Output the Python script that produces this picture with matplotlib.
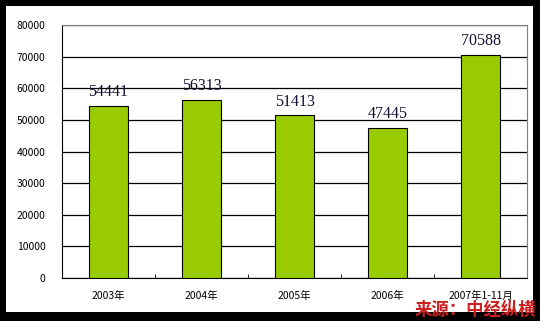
import matplotlib
matplotlib.use("Agg")
import matplotlib.pyplot as plt
from matplotlib.patches import Rectangle

plt.rcParams['font.family'] = ['Noto Sans CJK SC', 'DejaVu Sans']

# data
categories = ["2003年", "2004年", "2005年", "2006年", "2007年1-11月"]
values = [54441, 56313, 51413, 47445, 70588]
yticks = [0, 10000, 20000, 30000, 40000, 50000, 60000, 70000, 80000]
source = "来源：中经纵横"

W, H = 540, 321
fig = plt.figure(figsize=(W / 100, H / 100), dpi=100, facecolor="black")

# white panel inside the black frame
fig.patches.append(Rectangle((6 / W, 9 / H), 527 / W, 306 / H,
                             transform=fig.transFigure, facecolor="white",
                             edgecolor="none", zorder=-5))

ax = fig.add_axes([62 / W, 43 / H, 465 / W, 253 / H])
ax.set_zorder(2)
ax.set_facecolor("white")

x = range(len(categories))
bars = ax.bar(x, values, width=0.41, color="#99CC00", edgecolor="black",
              linewidth=0.8, zorder=3)

ax.set_ylim(0, 80000)
ax.set_xlim(-0.5, len(categories) - 0.5)
ax.set_yticks(yticks)
ax.set_yticklabels([str(t) for t in yticks], fontsize=7.5)
ax.yaxis.grid(True, color="black", linewidth=0.9, zorder=1)
ax.tick_params(axis="y", length=0, pad=12)

ax.set_xticks(list(x))
ax.set_xticklabels(categories, fontsize=7.5)
ax.set_xticks([i + 0.5 for i in range(len(categories) - 1)], minor=True)
ax.tick_params(axis="x", which="major", length=0, pad=9)
ax.tick_params(axis="x", which="minor", length=3, direction="in", color="black")

for side in ["top", "right"]:
    ax.spines[side].set_color("#808080")
for side in ["left", "bottom"]:
    ax.spines[side].set_color("black")

for b, v in zip(bars, values):
    ax.annotate(str(v), (b.get_x() + b.get_width() / 2, v),
                xytext=(0, 4), textcoords="offset points",
                ha="center", va="bottom", fontsize=11.5,
                family="Liberation Serif", color="#111133")

t = fig.text(536 / W, 11 / H, source, ha="right", va="center", fontsize=12.5,
             fontweight="bold", color="#CC1F1F")
t.set_zorder(5)

fig.savefig("out.png", dpi=100, facecolor=fig.get_facecolor())
